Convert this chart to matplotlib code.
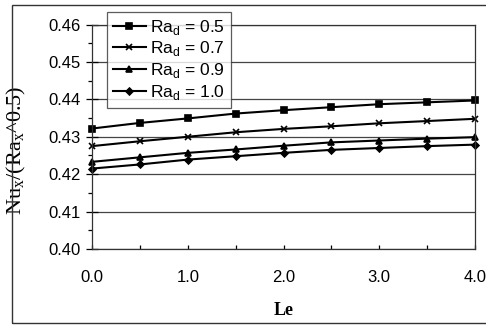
import matplotlib
matplotlib.use("Agg")
from matplotlib import pyplot as plt
from matplotlib.patches import Rectangle
from matplotlib.ticker import MultipleLocator, FormatStrFormatter

# data
le = [0.0, 0.5, 1.0, 1.5, 2.0, 2.5, 3.0, 3.5, 4.0]
nu_ra05 = [0.4322, 0.4337, 0.4349, 0.4362, 0.4371, 0.4379, 0.4387, 0.4392, 0.4397]
nu_ra07 = [0.4275, 0.4288, 0.4300, 0.4312, 0.4321, 0.4328, 0.4336, 0.4342, 0.4348]
nu_ra09 = [0.4233, 0.4245, 0.4257, 0.4266, 0.4276, 0.4285, 0.4290, 0.4295, 0.4299]
nu_ra10 = [0.4215, 0.4226, 0.4239, 0.4248, 0.4257, 0.4265, 0.4270, 0.4275, 0.4279]
ra_labels = ["0.5", "0.7", "0.9", "1.0"]

plt.rcParams['font.family'] = ['Liberation Sans', 'DejaVu Sans']
plt.rcParams['mathtext.fontset'] = 'custom'
plt.rcParams['mathtext.rm'] = 'Liberation Serif'
plt.rcParams['mathtext.sf'] = 'Liberation Sans'

fig = plt.figure(figsize=(4.86, 3.25), dpi=100)
ax = fig.add_axes([0.1893, 0.2338, 0.7881, 0.6908])

# outer frame around the whole chart
fig.patches.append(Rectangle((0.0247, 0.006), 1.0, 0.9785, transform=fig.transFigure,
                             fill=False, edgecolor='#333333', linewidth=1.0))

markers = ['s', 'x', '^', 'D']
sizes = [4.5, 5, 4.5, 3.5]
series = [nu_ra05, nu_ra07, nu_ra09, nu_ra10]
for ys, m, ms, lab in zip(series, markers, sizes, ra_labels):
    ax.plot(le, ys, color='black', linewidth=1.5, marker=m, markersize=ms,
            markeredgewidth=1.2, label=r"Ra$_\mathsf{d}$ = " + lab, clip_on=False)

ax.set_xlim(0, 4)
ax.set_ylim(0.40, 0.46)
ax.xaxis.set_major_locator(MultipleLocator(1.0))
ax.xaxis.set_minor_locator(MultipleLocator(0.5))
ax.yaxis.set_major_locator(MultipleLocator(0.01))
ax.yaxis.set_minor_locator(MultipleLocator(0.005))
ax.xaxis.set_major_formatter(FormatStrFormatter('%.1f'))
ax.yaxis.set_major_formatter(FormatStrFormatter('%.2f'))
ax.grid(True, axis='y', which='major', color='#444444', linewidth=0.9)
ax.tick_params(axis='y', which='major', direction='inout', length=8, width=0.9, labelsize=12, pad=4)
ax.tick_params(axis='y', which='minor', direction='out', length=3, width=0.9)
ax.tick_params(axis='x', which='both', direction='in', length=3, width=0.9, labelsize=12, pad=15)
for s in ax.spines.values():
    s.set_linewidth(0.9)
    s.set_color('#333333')

ax.set_ylabel(r"Nu$_\mathrm{x}$/(Ra$_\mathrm{x}$^0.5)", family='Liberation Serif', fontsize=16)
ax.yaxis.set_label_coords(-0.198, 0.44)
ax.set_xlabel("Le", family='Liberation Serif', fontweight='bold', fontsize=13)
ax.xaxis.set_label_coords(0.5, -0.272)
ax.xaxis.label.set_va('center')
ax.yaxis.label.set_va('center')

leg = ax.legend(loc='upper left', bbox_to_anchor=(0.038, 1.057), fontsize=12.5, frameon=True,
                fancybox=False, edgecolor='#333333', handlelength=1.9, handletextpad=0.25,
                labelspacing=0.15, borderpad=0.35, borderaxespad=0)
leg.get_frame().set_linewidth(0.9)
leg.set_zorder(5)

plt.savefig("out.png", dpi=100)
